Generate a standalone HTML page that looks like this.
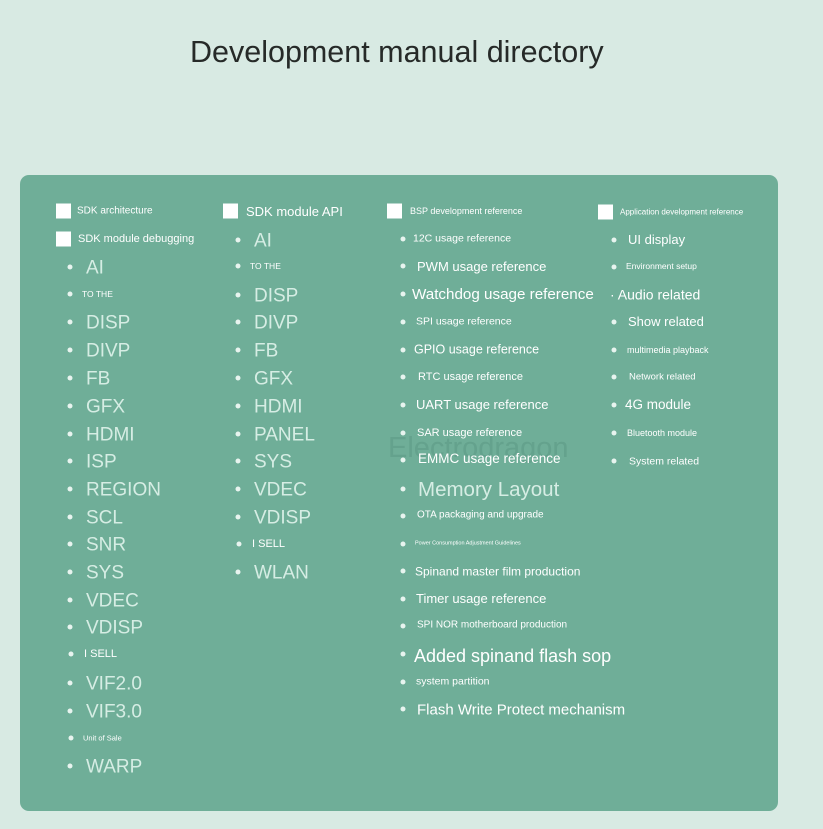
<!DOCTYPE html>
<html><head><meta charset="utf-8"><style>
html,body{margin:0;padding:0}
body{width:823px;height:829px;background:#d8eae3;position:relative;overflow:hidden;font-family:"Liberation Sans",sans-serif}
.title{position:absolute;left:190px;top:35px;font-size:30.5px;color:#262a28}
.panel{position:absolute;left:20px;top:175px;width:758px;height:636px;background:#6fae98;border-radius:9px}
.i{position:absolute;transform:translateY(-45%);white-space:nowrap;line-height:1;color:#fff}
.L{color:#d6ede4;font-size:19px}
.b{position:absolute;width:5px;height:5px;border-radius:50%;background:#e8f4ef;transform:translate(-50%,-70%)}
.cb{position:absolute;width:15px;height:15px;background:#fff;transform:translateY(-50%)}
.wm{position:absolute;left:388px;top:432px;font-size:29px;color:rgba(90,150,130,0.5)}
</style></head><body>
<div class="title">Development manual directory</div>
<div class="panel"></div>
<div class="wm">Electrodragon</div>

<div class="cb" style="left:56px;top:211px"></div><div class="i" style="left:77px;top:211px;font-size:10px">SDK architecture</div>
<div class="cb" style="left:56px;top:239px"></div><div class="i" style="left:78px;top:239px;font-size:11px">SDK module debugging</div>
<div class="cb" style="left:223px;top:211px"></div><div class="i" style="left:246px;top:211px;font-size:13px">SDK module API</div>
<div class="cb" style="left:387px;top:211px"></div><div class="i" style="left:410px;top:211px;font-size:9px">BSP development reference</div>
<div class="cb" style="left:598px;top:212px"></div><div class="i" style="left:620px;top:212px;font-size:8px">Application development reference</div>

<div class="b" style="left:70px;top:268px"></div><div class="i L" style="left:86px;top:267px">AI</div>
<div class="b" style="left:70px;top:295px"></div><div class="i" style="left:82px;top:294px;font-size:8.5px">TO THE</div>
<div class="b" style="left:70px;top:323px"></div><div class="i L" style="left:86px;top:322px">DISP</div>
<div class="b" style="left:70px;top:351px"></div><div class="i L" style="left:86px;top:350px">DIVP</div>
<div class="b" style="left:70px;top:379px"></div><div class="i L" style="left:86px;top:378px">FB</div>
<div class="b" style="left:70px;top:407px"></div><div class="i L" style="left:86px;top:406px">GFX</div>
<div class="b" style="left:70px;top:435px"></div><div class="i L" style="left:86px;top:434px">HDMI</div>
<div class="b" style="left:70px;top:462px"></div><div class="i L" style="left:86px;top:461px">ISP</div>
<div class="b" style="left:70px;top:490px"></div><div class="i L" style="left:86px;top:489px">REGION</div>
<div class="b" style="left:70px;top:518px"></div><div class="i L" style="left:86px;top:517px">SCL</div>
<div class="b" style="left:70px;top:545px"></div><div class="i L" style="left:86px;top:544px">SNR</div>
<div class="b" style="left:70px;top:573px"></div><div class="i L" style="left:86px;top:572px">SYS</div>
<div class="b" style="left:70px;top:601px"></div><div class="i L" style="left:86px;top:600px">VDEC</div>
<div class="b" style="left:70px;top:628px"></div><div class="i L" style="left:86px;top:627px">VDISP</div>
<div class="b" style="left:71px;top:655px"></div><div class="i" style="left:84px;top:654px;font-size:11px">I SELL</div>
<div class="b" style="left:70px;top:684px"></div><div class="i L" style="left:86px;top:683px">VIF2.0</div>
<div class="b" style="left:70px;top:712px"></div><div class="i L" style="left:86px;top:711px">VIF3.0</div>
<div class="b" style="left:71px;top:739px"></div><div class="i" style="left:83px;top:738px;font-size:7.5px">Unit of Sale</div>
<div class="b" style="left:70px;top:767px"></div><div class="i L" style="left:86px;top:766px">WARP</div>

<div class="b" style="left:238px;top:241px"></div><div class="i L" style="left:254px;top:240px">AI</div>
<div class="b" style="left:238px;top:267px"></div><div class="i" style="left:250px;top:266px;font-size:8.5px">TO THE</div>
<div class="b" style="left:238px;top:296px"></div><div class="i L" style="left:254px;top:295px">DISP</div>
<div class="b" style="left:238px;top:323px"></div><div class="i L" style="left:254px;top:322px">DIVP</div>
<div class="b" style="left:238px;top:351px"></div><div class="i L" style="left:254px;top:350px">FB</div>
<div class="b" style="left:238px;top:379px"></div><div class="i L" style="left:254px;top:378px">GFX</div>
<div class="b" style="left:238px;top:407px"></div><div class="i L" style="left:254px;top:406px">HDMI</div>
<div class="b" style="left:238px;top:435px"></div><div class="i L" style="left:254px;top:434px">PANEL</div>
<div class="b" style="left:238px;top:462px"></div><div class="i L" style="left:254px;top:461px">SYS</div>
<div class="b" style="left:238px;top:490px"></div><div class="i L" style="left:254px;top:489px">VDEC</div>
<div class="b" style="left:238px;top:518px"></div><div class="i L" style="left:254px;top:517px">VDISP</div>
<div class="b" style="left:239px;top:545px"></div><div class="i" style="left:252px;top:544px;font-size:11px">I SELL</div>
<div class="b" style="left:238px;top:573px"></div><div class="i L" style="left:254px;top:572px">WLAN</div>

<div class="b" style="left:403px;top:240px"></div><div class="i" style="left:413px;top:238px;font-size:10.5px">12C usage reference</div>
<div class="b" style="left:403px;top:267px"></div><div class="i" style="left:417px;top:266px;font-size:13px">PWM usage reference</div>
<div class="b" style="left:403px;top:295px"></div><div class="i" style="left:412px;top:294px;font-size:15.2px">Watchdog usage reference</div>
<div class="b" style="left:403px;top:323px"></div><div class="i" style="left:416px;top:321px;font-size:10.5px">SPI usage reference</div>
<div class="b" style="left:403px;top:351px"></div><div class="i" style="left:414px;top:349px;font-size:12.5px">GPIO usage reference</div>
<div class="b" style="left:403px;top:378px"></div><div class="i" style="left:418px;top:377px;font-size:11px">RTC usage reference</div>
<div class="b" style="left:403px;top:406px"></div><div class="i" style="left:416px;top:404px;font-size:13px">UART usage reference</div>
<div class="b" style="left:403px;top:434px"></div><div class="i" style="left:417px;top:433px;font-size:11px">SAR usage reference</div>
<div class="b" style="left:403px;top:461px"></div><div class="i" style="left:418px;top:458px;font-size:13.5px">EMMC usage reference</div>
<div class="b" style="left:403px;top:490px"></div><div class="i L" style="left:418px;top:489px;font-size:20.5px">Memory Layout</div>
<div class="b" style="left:403px;top:517px"></div><div class="i" style="left:417px;top:515px;font-size:10px">OTA packaging and upgrade</div>
<div class="b" style="left:403px;top:545px"></div><div class="i" style="left:415px;top:544px;font-size:5.5px">Power Consumption Adjustment Guidelines</div>
<div class="b" style="left:403px;top:572px"></div><div class="i" style="left:415px;top:571px;font-size:12px">Spinand master film production</div>
<div class="b" style="left:403px;top:600px"></div><div class="i" style="left:416px;top:598px;font-size:13px">Timer usage reference</div>
<div class="b" style="left:403px;top:627px"></div><div class="i" style="left:417px;top:625px;font-size:10px">SPI NOR motherboard production</div>
<div class="b" style="left:403px;top:655px"></div><div class="i" style="left:414px;top:655px;font-size:18px">Added spinand flash sop</div>
<div class="b" style="left:403px;top:683px"></div><div class="i" style="left:416px;top:681px;font-size:10.5px">system partition</div>
<div class="b" style="left:403px;top:710px"></div><div class="i" style="left:417px;top:709px;font-size:15px">Flash Write Protect mechanism</div>

<div class="b" style="left:614px;top:241px"></div><div class="i" style="left:628px;top:239px;font-size:13px">UI display</div>
<div class="b" style="left:614px;top:268px"></div><div class="i" style="left:626px;top:266px;font-size:8.5px">Environment setup</div>
<div class="i" style="left:610px;top:294px;font-size:14px">· Audio related</div>
<div class="b" style="left:614px;top:323px"></div><div class="i" style="left:628px;top:321px;font-size:13px">Show related</div>
<div class="b" style="left:614px;top:351px"></div><div class="i" style="left:627px;top:350px;font-size:9px">multimedia playback</div>
<div class="b" style="left:614px;top:378px"></div><div class="i" style="left:629px;top:377px;font-size:9.5px">Network related</div>
<div class="b" style="left:614px;top:406px"></div><div class="i" style="left:625px;top:404px;font-size:13.5px">4G module</div>
<div class="b" style="left:614px;top:434px"></div><div class="i" style="left:627px;top:433px;font-size:9px">Bluetooth module</div>
<div class="b" style="left:614px;top:462px"></div><div class="i" style="left:629px;top:461px;font-size:10.5px">System related</div>
</body></html>
